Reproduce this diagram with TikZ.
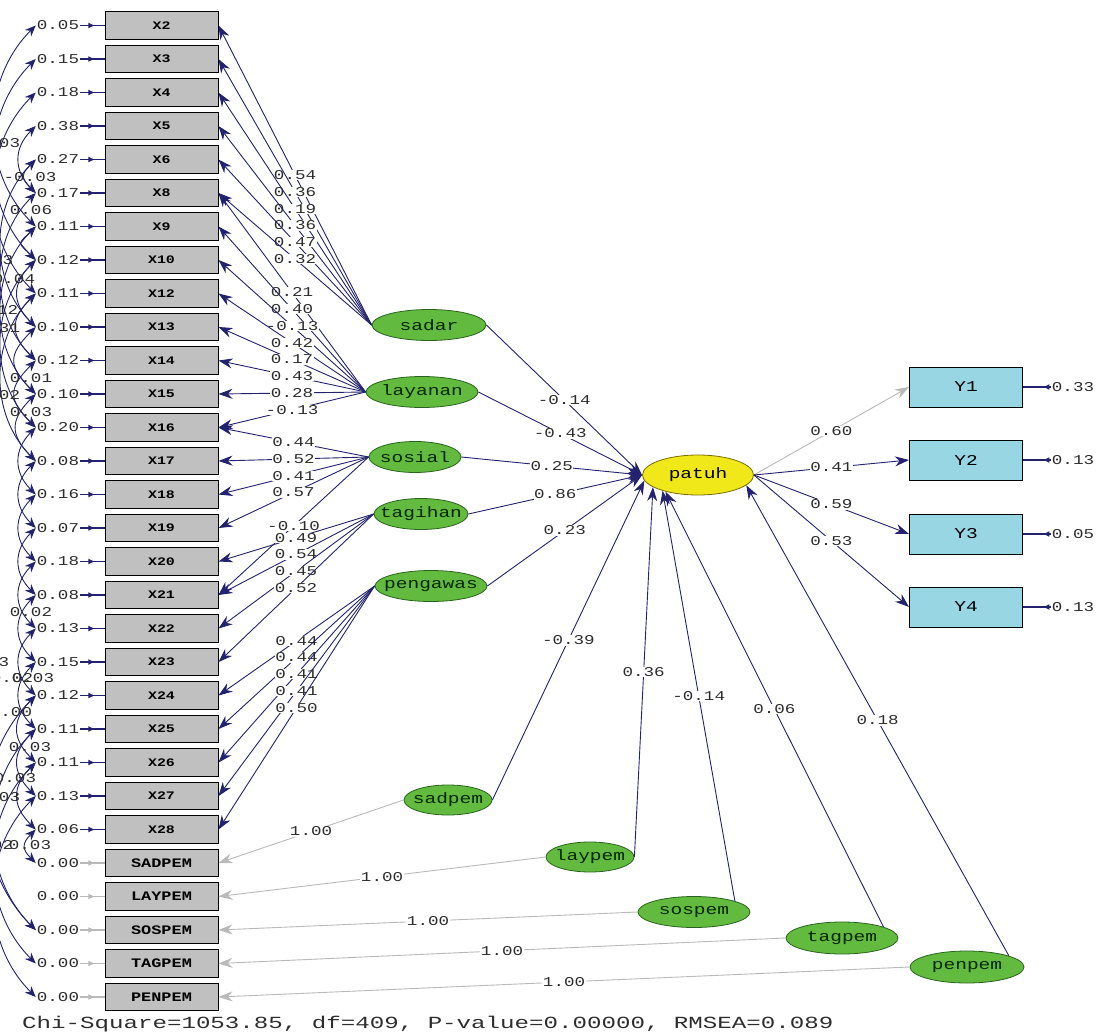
\documentclass[tikz,border=0pt]{standalone}
\usepackage{fontspec}
\usetikzlibrary{shapes.geometric,arrows.meta,decorations.markings}
\newfontfamily\lisfont[FakeStretch=1.3]{Liberation Mono}
\newfontfamily\chifont[FakeStretch=1.42]{Liberation Mono}
\definecolor{navy}{RGB}{34,34,110}
\definecolor{fixgray}{RGB}{185,185,185}
\definecolor{boxgray}{RGB}{192,192,192}
\definecolor{ybox}{RGB}{152,214,228}
\definecolor{latgreen}{RGB}{98,186,62}
\definecolor{latedge}{RGB}{40,100,30}
\definecolor{patyel}{RGB}{240,232,24}
\definecolor{patedge}{RGB}{120,110,0}
\definecolor{txtgray}{RGB}{45,45,45}
\newcommand\zw[1]{\makebox[0pt]{#1}}
\begin{document}
\begin{tikzpicture}[x=1pt,y=-1pt,
 obs/.style={draw=black, line width=1pt, fill=boxgray, minimum width=113pt, minimum height=27.5pt, inner sep=0pt, font=\lisfont\bfseries\fontsize{11.5}{12}\selectfont},
 pemobs/.style={obs, font=\lisfont\bfseries\fontsize{13}{14}\selectfont},
 yobs/.style={draw=black, line width=1pt, fill=ybox, minimum width=113pt, minimum height=40pt, inner sep=0pt, font=\lisfont\fontsize{15}{16}\selectfont},
 lat/.style={ellipse, draw=latedge, line width=0.8pt, fill=latgreen, minimum height=31pt, inner sep=0pt, font=\lisfont\fontsize{15}{16}\selectfont, text=black!85!green},
 patst/.style={ellipse, draw=patedge, line width=0.8pt, fill=patyel, minimum height=40pt, minimum width=111pt, inner sep=0pt, font=\lisfont\fontsize{15}{16}\selectfont},
 lbl/.style={font=\lisfont\fontsize{13.5}{14}\selectfont, text=txtgray, fill=white, inner sep=0.6pt},
 errlbl/.style={font=\lisfont\fontsize{13.5}{14}\selectfont, text=txtgray, inner sep=1pt},
 cvlbl/.style={font=\lisfont\fontsize{13.5}{14}\selectfont, text=txtgray, inner sep=0pt},
 load/.style={draw=navy, line width=0.9pt, -{Stealth[length=14pt,width=10pt]}},
 fixload/.style={draw=fixgray, line width=0.9pt, -{Stealth[length=14pt,width=10pt]}},
 err/.style={draw=navy, line width=1.6pt, postaction={decorate}, decoration={markings, mark=at position 0.62 with {\arrow{Latex[length=7pt,width=6pt]}}}},
 yerr/.style={draw=navy, line width=1.6pt, postaction={decorate}, decoration={markings, mark=at position 0.3 with {\arrow{Latex[length=7pt,width=6pt]}}}},
 fixerr/.style={draw=fixgray, line width=1.6pt, postaction={decorate}, decoration={markings, mark=at position 0.62 with {\arrow{Latex[length=7pt,width=6pt]}}}},
 cov/.style={draw=navy, line width=0.9pt, {Stealth[length=11pt,width=9pt]}-{Stealth[length=11pt,width=9pt]}}
]
\useasboundingbox (0,0) rectangle (1112,1036);

% observed X variables with error variances
\foreach \n/\v [count=\i from 0] in {X2/0.05,X3/0.15,X4/0.18,X5/0.38,X6/0.27,X8/0.17,X9/0.11,X10/0.12,X12/0.11,X13/0.10,X14/0.12,X15/0.10,X16/0.20,X17/0.08,X18/0.16,X19/0.07,X20/0.18,X21/0.08,X22/0.13,X23/0.15,X24/0.12,X25/0.11,X26/0.11,X27/0.13,X28/0.06}{
  \node[obs] (\n) at (161.5,{25.5+33.5*\i}) {\n};
  \node[errlbl] (e\n) at (58,{25.5+33.5*\i}) {\v};
  \draw[err] (e\n.east) -- (\n.west);
}
\foreach \n [count=\i from 25] in {SADPEM,LAYPEM,SOSPEM,TAGPEM,PENPEM}{
  \node[pemobs] (\n) at (161.5,{25.5+33.5*\i}) {\n};
  \node[errlbl] (e\n) at (58,{25.5+33.5*\i}) {0.00};
  \draw[fixerr] (e\n.east) -- (\n.west);
}

% latent variables
\node[lat, minimum width=114pt] (sadar) at (429,325) {\zw{sadar}};
\node[lat, minimum width=112pt] (layanan) at (422,392) {\zw{layanan}};
\node[lat, minimum width=92pt] (sosial) at (415,457) {\zw{sosial}};
\node[lat, minimum width=94pt] (tagihan) at (421,514) {\zw{tagihan}};
\node[lat, minimum width=112pt] (pengawas) at (431,586) {\zw{pengawas}};
\node[lat, minimum width=88pt, minimum height=30pt] (sadpem) at (448,800) {\zw{sadpem}};
\node[lat, minimum width=88pt, minimum height=30pt] (laypem) at (590,857) {\zw{laypem}};
\node[lat, minimum width=112pt] (sospem) at (694,912) {\zw{sospem}};
\node[lat, minimum width=112pt, minimum height=32pt] (tagpem) at (842,938) {\zw{tagpem}};
\node[lat, minimum width=114pt, minimum height=32pt] (penpem) at (967,967) {\zw{penpem}};
\node[patst] (patuh) at (698,475) {\zw{patuh}};

% Y indicators
\foreach \n/\yy/\v in {Y1/387/0.33,Y2/460/0.13,Y3/534/0.05,Y4/607/0.13}{
  \node[yobs] (\n) at (966,\yy) {\n};
  \node[errlbl] (e\n) at (1073,\yy) {\v};
  \draw[yerr] (e\n.west) -- (\n.east);
}

% loadings
\foreach \a/\b/\v in {sadar/X2/0.54,sadar/X3/0.36,sadar/X4/0.19,sadar/X5/0.36,sadar/X6/0.47,sadar/X8/0.32,
  layanan/X8/0.21,layanan/X9/0.40,layanan/X10/-0.13,layanan/X12/0.42,layanan/X13/0.17,layanan/X14/0.43,layanan/X15/0.28,layanan/X16/-0.13,
  sosial/X16/0.44,sosial/X17/0.52,sosial/X18/0.41,sosial/X19/0.57,sosial/X21/-0.10,
  tagihan/X20/0.49,tagihan/X21/0.54,tagihan/X22/0.45,tagihan/X23/0.52,
  pengawas/X24/0.44,pengawas/X25/0.44,pengawas/X26/0.41,pengawas/X27/0.41,pengawas/X28/0.50}{
  \draw[load] (\a.west) -- (\b.east) node[lbl,pos=0.5] {\v};
}

% fixed loadings of the product terms
\draw[fixload] (sadpem.west) -- (SADPEM.east) node[lbl,pos=0.5] {1.00};
\draw[fixload] (laypem.west) -- (LAYPEM.east) node[lbl,pos=0.5] {1.00};
\draw[fixload] (sospem.west) -- (SOSPEM.east) node[lbl,pos=0.5] {1.00};
\draw[fixload] (tagpem.west) -- (TAGPEM.east) node[lbl,pos=0.5] {1.00};
\draw[fixload] (penpem.west) -- (PENPEM.east) node[lbl,pos=0.5] {1.00};

% structural paths
\draw[load] (sadar.east) -- (patuh.west) node[lbl,pos=0.5] {-0.14};
\draw[load] (layanan.east) -- (patuh.west) node[lbl,pos=0.5] {-0.43};
\draw[load] (sosial.east) -- (patuh.west) node[lbl,pos=0.5] {0.25};
\draw[load] (tagihan.east) -- (patuh.west) node[lbl,pos=0.5] {0.86};
\draw[load] (pengawas.east) -- (patuh.west) node[lbl,pos=0.5] {0.23};
\draw[load] (sadpem.east) -- (patuh.186) node[lbl,pos=0.5] {-0.39};
\draw[load] (laypem.east) -- (patuh.195) node[lbl,pos=0.5] {0.36};
\draw[load] (sospem.15) -- (patuh.204) node[lbl,pos=0.5] {-0.14};
\draw[load] (tagpem.15) -- (patuh.207) node[lbl,pos=0.5] {0.06};
\draw[load] (penpem.15) -- (patuh.348) node[lbl,pos=0.5] {0.18};

% patuh to Y
\draw[fixload] (patuh.east) -- (Y1.west) node[lbl,pos=0.5] {0.60};
\draw[load] (patuh.east) -- (Y2.west) node[lbl,pos=0.5] {0.41};
\draw[load] (patuh.east) -- (Y3.west) node[lbl,pos=0.5] {0.59};
\draw[load] (patuh.east) -- (Y4.west) node[lbl,pos=0.5] {0.53};

% error covariances
\foreach \a/\b/\l in {X2/X9/1,X3/X10/1,X4/X12/1,X5/X8/1.2,X6/X13/1,X6/X8/1.6,X8/X14/1,X9/X10/2,X9/X15/1,X10/X13/1.3,X10/X16/1,X12/X14/1.4,X12/X17/1,X13/X15/1.5,X14/X16/1.5,X15/X17/1.4,X16/X18/1.2,X17/X19/1.2,X18/X20/1.2,X19/X21/1.2,X20/X22/1.2,X21/X23/1.2,X22/X24/1.2,X23/X25/1.2,X24/X26/1.3,X25/X27/1.3,X26/X28/1.3,X28/SADPEM/1.5,X24/SOSPEM/1,X25/SOSPEM/1,X26/TAGPEM/1,X27/PENPEM/1}{
  \draw[cov] (e\a.west) to[out=225,in=135,looseness=\l] (e\b.west);
}
\node[cvlbl] (c1) at (-1,143) {0.03};
\node[cvlbl] (c2) at (30,177) {-0.03};
\node[cvlbl] (c3) at (31,210) {0.06};
\node[cvlbl] (c4) at (-8,260) {0.03};
\node[cvlbl] (c5) at (14,279) {0.04};
\node[cvlbl] (c6) at (-3,310) {0.12};
\node[cvlbl] (c7) at (-1,328) {0.31};
\node[cvlbl] (c8) at (31,378) {0.01};
\node[cvlbl] (c9) at (-1,395) {0.02};
\node[cvlbl] (c10) at (31,412) {0.03};
\node[cvlbl] (c11) at (31,612) {0.02};
\node[cvlbl] (c12) at (-12,662) {0.03};
\node[cvlbl] (c13) at (12,678) {0.02};
\node[cvlbl] (c14) at (33,678) {0.03};
\node[cvlbl] (c15) at (11,712) {0.00};
\node[cvlbl] (c16) at (30,747) {0.03};
\node[cvlbl] (c17) at (15,778) {0.03};
\node[cvlbl] (c18) at (-1,797) {0.03};
\node[cvlbl] (c19) at (-8,845) {0.02};
\node[cvlbl] (c20) at (30,845) {0.03};

% fit statistics
\node[font=\chifont\fontsize{17}{18}\selectfont, text=txtgray, anchor=west, inner sep=0pt] (fit) at (22,1024) {Chi-Square=1053.85, df=409, P-value=0.00000, RMSEA=0.089};
\end{tikzpicture}
\end{document}
